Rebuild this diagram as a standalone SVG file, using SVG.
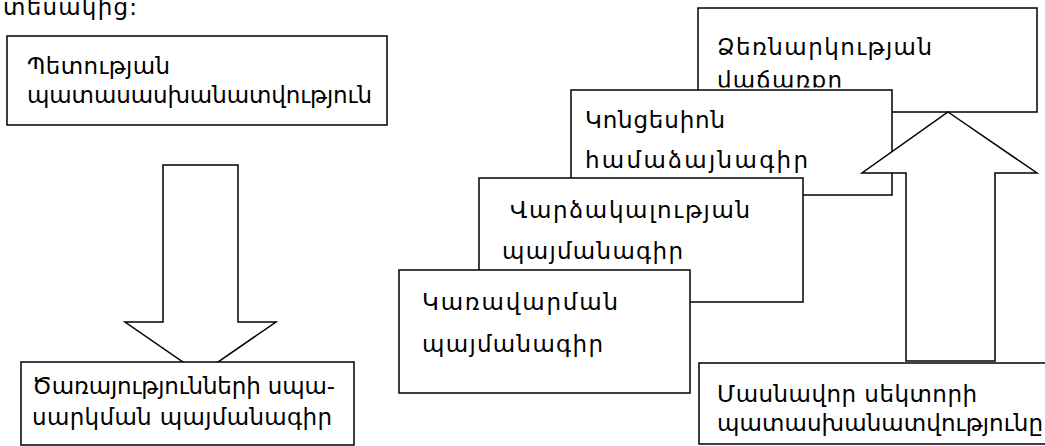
<svg xmlns="http://www.w3.org/2000/svg" width="1045" height="446" viewBox="0 0 1045 446">
<style>
.box{fill:#fff;stroke:#000;stroke-width:1.5}
.arrow{fill:#fff;stroke:#000;stroke-width:1.5;stroke-linejoin:miter}
text{font-family:"DejaVu Sans","Noto Sans",sans-serif;font-size:23px;fill:#000}
</style>
<defs>
<clipPath id="clipDz"><rect x="698" y="8" width="339" height="79.5"/></clipPath>
</defs>
<rect width="1045" height="446" fill="#fff"/>
<text x="3" y="15" textLength="134">տեսակից:</text>
<g id="node-state">
<rect class="box" x="7" y="36" width="380" height="89"/>
<text x="27" y="74" textLength="143">Պետության</text>
<text x="27" y="103" textLength="345">պատասասխանատվություն</text>
</g>
<g id="node-enterprise-sale">
<rect class="box" x="698" y="8" width="339" height="104"/>
<g clip-path="url(#clipDz)">
<text x="717" y="55" textLength="215">Ձեռնարկության</text>
<text x="717" y="88" textLength="125">վաճառքը</text>
</g>
</g>
<g id="node-concession">
<rect class="box" x="571" y="90" width="321" height="105"/>
<text x="585" y="128" textLength="140">Կոնցեսիոն</text>
<text x="585" y="168" textLength="223">համաձայնագիր</text>
</g>
<g id="connectors">
<polygon class="arrow" points="163,165 238,165 238,322 276,322 200.5,374 125,322 163,322"/>
<polygon class="arrow" points="948,112 1037,173 995,173 995,361 906,361 906,173 862,173"/>
</g>
<g id="node-services">
<rect class="box" x="21" y="362" width="333" height="83"/>
<text x="32" y="394" textLength="303">Ծառայությունների սպա-</text>
<text x="32" y="425" textLength="300">սարկման պայմանագիր</text>
</g>
<g id="node-lease">
<rect class="box" x="479" y="178" width="324" height="124"/>
<text x="510" y="218" textLength="240">Վարձակալության</text>
<text x="502" y="259" textLength="181">պայմանագիր</text>
</g>
<g id="node-management">
<rect class="box" x="399" y="270" width="291" height="123"/>
<text x="422" y="310" textLength="196">Կառավարման</text>
<text x="422" y="352" textLength="181">պայմանագիր</text>
</g>
<g id="node-private">
<rect class="box" x="699" y="363" width="351" height="81"/>
<text x="717" y="402" textLength="260">Մասնավոր սեկտորի</text>
<text x="717" y="431" textLength="326">պատասխանատվությունը</text>
</g>
</svg>
